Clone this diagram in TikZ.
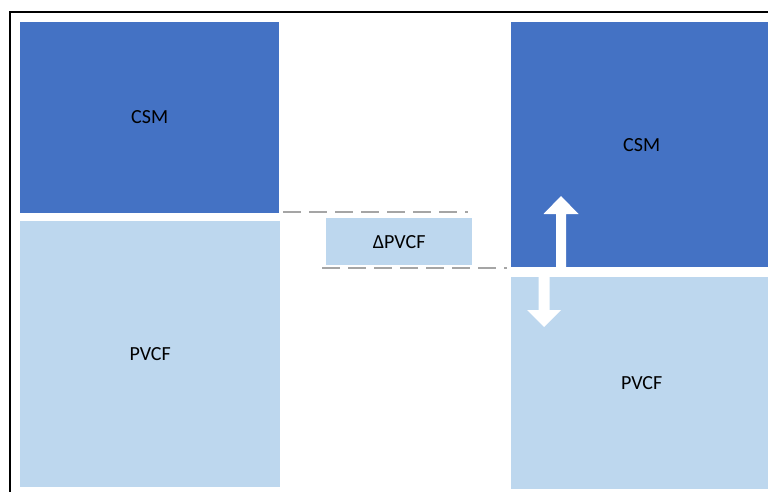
\documentclass[tikz,border=0pt]{standalone}
\usepackage{fontspec}
\setmainfont{Carlito}
\begin{document}
\begin{tikzpicture}[x=1pt,y=-1pt,
  csmbox/.style={draw=none,fill=csmblue,anchor=north west,inner sep=0pt,
    font=\fontsize{20}{24}\selectfont},
  pvcfbox/.style={draw=none,fill=pvcfblue,anchor=north west,inner sep=0pt,
    font=\fontsize{20}{24}\selectfont},
  guide/.style={draw=guidegray,line width=2pt,dash pattern=on 18pt off 8pt},
  blockarrow/.style={fill=white,draw=none}]
\definecolor{csmblue}{HTML}{4472C4}
\definecolor{pvcfblue}{HTML}{BDD7EE}
\definecolor{guidegray}{HTML}{A5A5A5}
\useasboundingbox (0,0) rectangle (768,492);
\clip (0,0) rectangle (768,492);

% outer frame
\draw[line width=2pt] (10,500) -- (10,12) -- (780,12);

% before: CSM over PVCF
\node[csmbox,minimum width=259pt,minimum height=190.5pt] (csmL) at (20,22) {CSM};
\node[pvcfbox,minimum width=260pt,minimum height=265.5pt] (pvcfL) at (20,221) {PVCF};

% after: larger CSM, smaller PVCF
\node[csmbox,minimum width=262pt,minimum height=245pt] (csmR) at (510.5,22) {CSM};
\node[pvcfbox,minimum width=262pt,minimum height=212pt] (pvcfR) at (510.5,277) {PVCF};

% change in PVCF
\node[pvcfbox,minimum width=146pt,minimum height=47pt] (dpvcf) at (326,218) {ΔPVCF};

% dashed guides between the two levels
\coordinate (gTopA) at (283,211.5);
\coordinate (gTopB) at (468,211.5);
\coordinate (gBotA) at (322,268);
\coordinate (gBotB) at (507,268);
\draw[guide] (gTopA) -- (gTopB);
\draw[guide] (gBotA) -- (gBotB);

% block arrows across the boundary
\fill[blockarrow] (556,268) -- (556,214) -- (543.5,214) -- (561,196)
  -- (578.5,214) -- (566,214) -- (566,268) -- cycle;
\fill[blockarrow] (538.5,276) -- (538.5,310) -- (527,310) -- (544,327)
  -- (561,310) -- (549.5,310) -- (549.5,276) -- cycle;
\end{tikzpicture}
\end{document}
